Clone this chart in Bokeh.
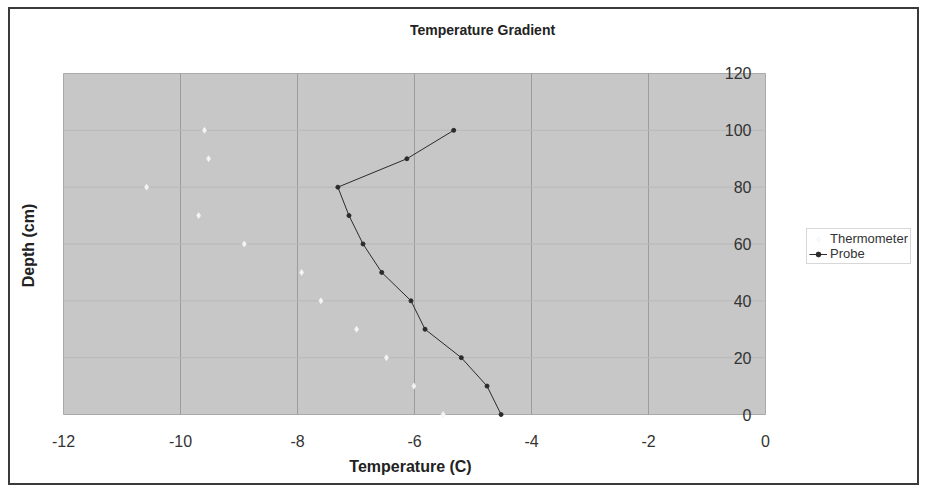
import math
from bokeh.plotting import figure
from bokeh.models import Legend, LegendItem, Range1d, Label, LabelSet, ColumnDataSource
from bokeh.core.properties import value
from bokeh.embed import file_html
from bokeh.resources import INLINE

# ---- data ----
depth = [0, 10, 20, 30, 40, 50, 60, 70, 80, 90, 100]
probe = [-4.52, -4.76, -5.20, -5.82, -6.06, -6.56, -6.88, -7.12, -7.31, -6.13, -5.33]
thermometer = [-5.51, -6.01, -6.48, -6.99, -7.60, -7.93, -8.91, -9.69, -10.58, -9.52, -9.59]
x_ticks = [-12, -10, -8, -6, -4, -2, 0]
y_ticks = [0, 20, 40, 60, 80, 100, 120]

FONT = "Liberation Sans"

# ---- layout (pixels) ----
W, H = 911, 478          # canvas (the frame covers all of it)
PX_X = 58.5              # px per degree
PX_Y = 2.8417            # px per cm
X0_PX = 53               # x = -12 from canvas left
Y0_PX = 73               # depth 0 above canvas bottom

x_start = x_ticks[0] - X0_PX / PX_X
y_start = y_ticks[0] - Y0_PX / PX_Y

p = figure(width=W, height=H, output_backend="svg", toolbar_location=None,
           x_range=Range1d(x_start, x_start + W / PX_X),
           y_range=Range1d(y_start, y_start + H / PX_Y),
           min_border=0, background_fill_color="white", border_fill_color="white",
           x_axis_location=None, y_axis_location=None)
p.styles = {"margin-left": "8px", "margin-top": "7px", "border": "2px solid #3a3a3a"}
p.outline_line_color = None
p.grid.visible = False

n_in = len(x_ticks) - 2
m_in = len(y_ticks) - 2
# plot area
p.quad(left=x_ticks[0], right=x_ticks[-1], bottom=y_ticks[0], top=y_ticks[-1],
       fill_color="#c7c7c7", line_color="#a9a9a9", line_width=1)
# grid lines
p.segment(x0=x_ticks[1:-1], y0=[y_ticks[0]] * n_in, x1=x_ticks[1:-1], y1=[y_ticks[-1]] * n_in,
          line_color="#9c9c9c", line_width=1)
p.segment(x0=[x_ticks[0]] * m_in, y0=y_ticks[1:-1], x1=[x_ticks[-1]] * m_in, y1=y_ticks[1:-1],
          line_color="#b8b8b8", line_width=1)

# x tick labels below the plot area
xsrc = ColumnDataSource(dict(x=x_ticks, y=[y_ticks[0]] * len(x_ticks),
                             t=[str(v) for v in x_ticks]))
p.add_layout(LabelSet(x="x", y="y", text="t", source=xsrc, y_offset=-26,
                      text_align="center", text_baseline="middle",
                      text_font=value(FONT), text_font_size="16px", text_color="#333333"))

# y tick labels, inside the plot area next to the x = 0 edge
ysrc = ColumnDataSource(dict(x=[x_ticks[-1]] * len(y_ticks), y=y_ticks,
                             t=[str(v) for v in y_ticks]))
p.add_layout(LabelSet(x="x", y="y", text="t", source=ysrc, x_offset=-14,
                      text_align="right", text_baseline="middle",
                      text_font=value(FONT), text_font_size="16px", text_color="#333333"))

# titles
p.add_layout(Label(x=472, y=H - 20, x_units="screen", y_units="screen",
                   text="Temperature Gradient", text_align="center", text_baseline="middle",
                   text_font=FONT, text_font_size="14px", text_font_style="bold",
                   text_color="#222222"))
p.add_layout(Label(x=400, y=H - 457, x_units="screen", y_units="screen",
                   text="Temperature (C)", text_align="center", text_baseline="middle",
                   text_font=FONT, text_font_size="16px", text_font_style="bold",
                   text_color="#222222"))
p.add_layout(Label(x=18, y=H - 236, x_units="screen", y_units="screen",
                   text="Depth (cm)", angle=math.pi / 2, text_align="center",
                   text_baseline="middle", text_font=FONT, text_font_size="16px",
                   text_font_style="bold", text_color="#222222"))

# series
th = p.scatter(thermometer, depth, marker="diamond", size=6, color="white",
               line_color="#eeeeee", alpha=0.85)
pl = p.line(probe, depth, line_color="#2b2b2b", line_width=1)
ps = p.scatter(probe, depth, marker="circle", size=4, color="#2b2b2b")

legend = Legend(items=[LegendItem(label="Thermometer", renderers=[th]),
                       LegendItem(label="Probe", renderers=[pl, ps])],
                location=(796, H - 255), label_text_font=FONT,
                label_text_font_size="13px", label_text_color="#333333",
                glyph_width=18, glyph_height=12, label_height=12, label_standoff=3,
                spacing=0, padding=2, margin=0,
                border_line_color="#b0b0b0", border_line_width=1,
                background_fill_color="white", background_fill_alpha=1.0)
p.add_layout(legend, "center")

open("out.html", "w").write(file_html(p, INLINE))
